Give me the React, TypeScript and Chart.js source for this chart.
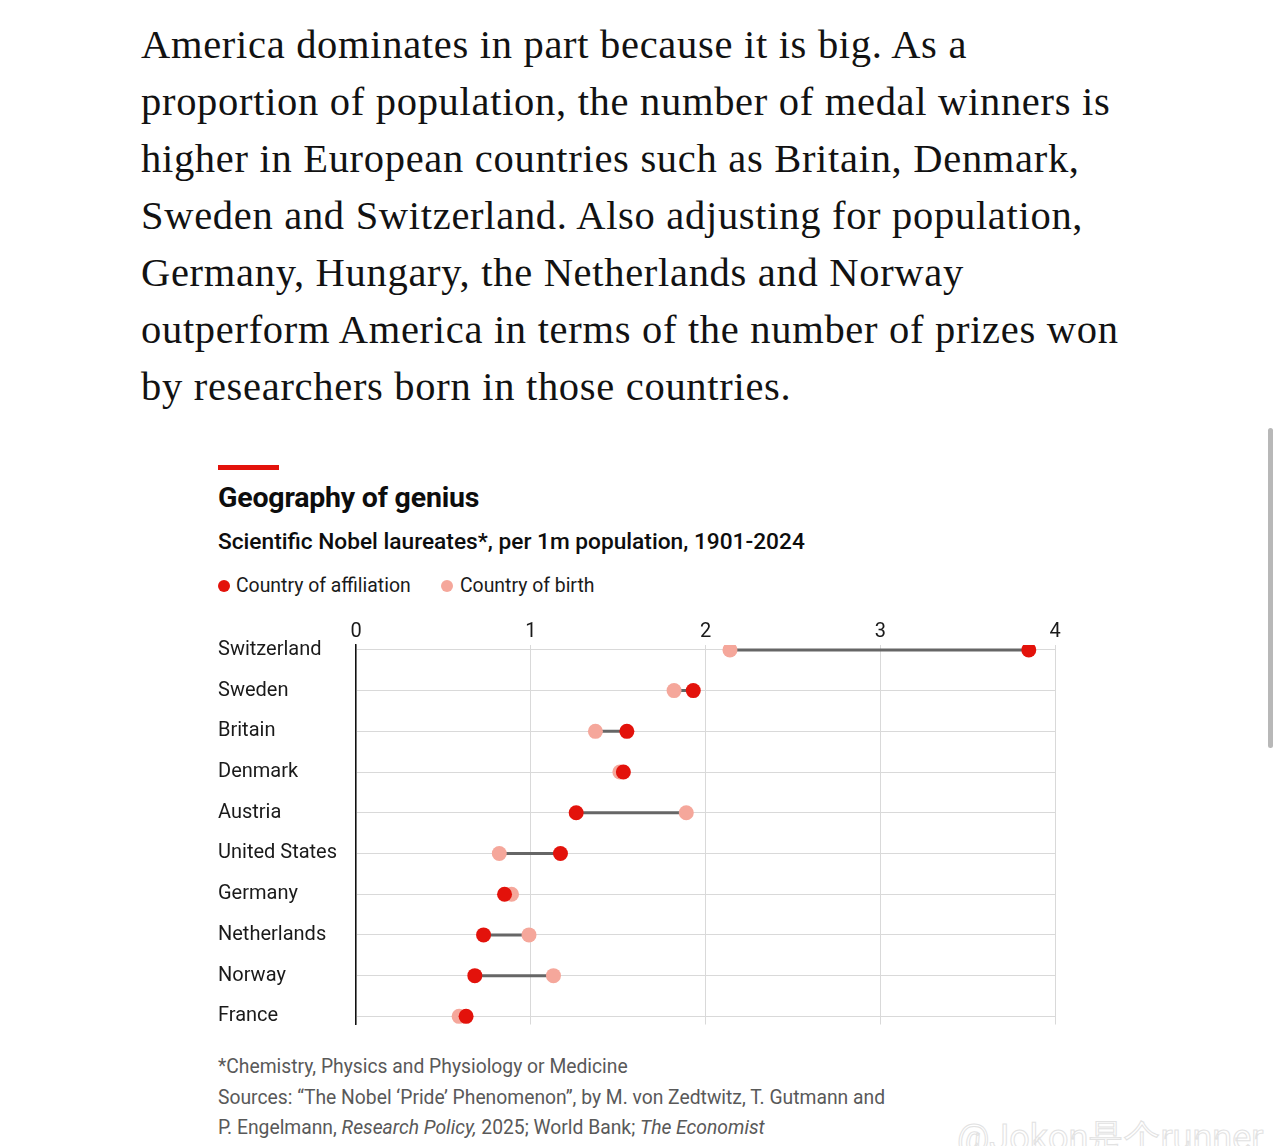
import React, { useEffect, useRef } from 'react';
import { Chart, registerables } from 'chart.js';

Chart.register(...registerables);

const countries = ['Switzerland', 'Sweden', 'Britain', 'Denmark', 'Austria', 'United States', 'Germany', 'Netherlands', 'Norway', 'France'];
const affiliation = [3.85, 1.93, 1.55, 1.53, 1.26, 1.17, 0.85, 0.73, 0.68, 0.63];
const birth = [2.14, 1.82, 1.37, 1.51, 1.89, 0.82, 0.89, 0.99, 1.13, 0.59];
const xTicks = [0, 1, 2, 3, 4];

const paragraph = [
  'America dominates in part because it is big. As a',
  'proportion of population, the number of medal winners is',
  'higher in European countries such as Britain, Denmark,',
  'Sweden and Switzerland. Also adjusting for population,',
  'Germany, Hungary, the Netherlands and Norway',
  'outperform America in terms of the number of prizes won',
  'by researchers born in those countries.',
];

const RED = '#e3120b';
const PINK = '#f5a79b';
const SANS = 'Roboto, "Noto Sans", sans-serif';

export default function App() {
  const canvasRef = useRef<HTMLCanvasElement | null>(null);

  useEffect(() => {
    const canvas = canvasRef.current;
    if (!canvas) return;
    const connectors = countries.map((c, i) => ({
      type: 'line' as const,
      label: 'connector-' + c,
      data: [
        { x: affiliation[i], y: i },
        { x: birth[i], y: i },
      ],
      borderColor: '#666666',
      borderWidth: 3,
      pointRadius: 0,
      pointHoverRadius: 0,
      showLine: true,
      fill: false,
      order: 3,
    }));
    const chart = new Chart(canvas, {
      type: 'scatter',
      data: {
        datasets: [
          {
            type: 'scatter',
            label: 'Country of affiliation',
            data: countries.map((_, i) => ({ x: affiliation[i], y: i })),
            backgroundColor: RED,
            borderWidth: 0,
            pointRadius: 7.5,
            pointHoverRadius: 7.5,
            order: 0,
          },
          {
            type: 'scatter',
            label: 'Country of birth',
            data: countries.map((_, i) => ({ x: birth[i], y: i })),
            backgroundColor: PINK,
            borderWidth: 0,
            pointRadius: 7.5,
            pointHoverRadius: 7.5,
            order: 1,
          },
          ...connectors,
        ] as any,
      },
      options: {
        animation: false,
        responsive: false,
        devicePixelRatio: 1,
        layout: { padding: { left: 10, right: 15, top: 0, bottom: 4 } },
        plugins: { legend: { display: false }, tooltip: { enabled: false } },
        events: [],
        scales: {
          x: {
            type: 'linear',
            position: 'top',
            min: 0,
            max: 4,
            afterBuildTicks: (s: any) => {
              s.ticks = xTicks.map((v) => ({ value: v }));
            },
            afterFit: (s: any) => {
              s.height = 35;
              s.paddingLeft = 0;
              s.paddingRight = 0;
            },
            ticks: {
              font: { family: SANS, size: 20 },
              color: '#1a1a1a',
              padding: 1,
              maxRotation: 0,
            },
            grid: { color: '#d9d9d9', lineWidth: 1, drawTicks: false },
            border: { display: false },
          },
          y: {
            type: 'linear',
            reverse: true,
            min: -0.12,
            max: 9.2,
            afterBuildTicks: (s: any) => {
              s.ticks = countries.map((_, i) => ({ value: i }));
            },
            afterFit: (s: any) => {
              s.width = 138;
              s.paddingTop = 0;
              s.paddingBottom = 0;
            },
            ticks: {
              callback: (v: any) => countries[Math.round(Number(v))] ?? '',
              crossAlign: 'far',
              font: { family: SANS, size: 20 },
              color: '#1a1a1a',
              padding: 0,
            },
            grid: { color: '#d9d9d9', lineWidth: 1, drawTicks: false },
            border: { display: true, color: '#111111', width: 1.5 },
          },
        },
      } as any,
    });
    return () => chart.destroy();
  }, []);

  const dot = (color: string, left: number, top: number) => (
    <div
      style={{
        position: 'absolute',
        left,
        top,
        width: 12,
        height: 12,
        borderRadius: '50%',
        background: color,
      }}
    />
  );

  return (
    <div
      style={{
        position: 'absolute',
        left: 0,
        top: 0,
        width: 1280,
        height: 1146,
        background: '#ffffff',
        overflow: 'hidden',
      }}
    >
      {paragraph.map((line, i) => (
        <div
          key={i}
          style={{
            position: 'absolute',
            left: 141,
            top: 16 + i * 57,
            height: 57,
            lineHeight: '57px',
            whiteSpace: 'nowrap',
            fontFamily: '"Liberation Serif", "DejaVu Serif", serif',
            fontSize: 40.5,
            letterSpacing: 0.7,
            color: '#121212',
          }}
        >
          {line}
        </div>
      ))}

      <div style={{ position: 'absolute', left: 218, top: 465, width: 61, height: 5, background: RED }} />
      <div
        style={{
          position: 'absolute',
          left: 218,
          top: 480,
          lineHeight: '36px',
          fontFamily: SANS,
          fontWeight: 700,
          fontSize: 28.5,
          color: '#0d0d0d',
          whiteSpace: 'nowrap',
          letterSpacing: -0.2,
        }}
      >
        Geography of genius
      </div>
      <div
        style={{
          position: 'absolute',
          left: 218,
          top: 527,
          lineHeight: '30px',
          fontFamily: SANS,
          fontWeight: 500,
          fontSize: 22.7,
          color: '#0d0d0d',
          whiteSpace: 'nowrap',
        }}
      >
        Scientific Nobel laureates*, per 1m population, 1901-2024
      </div>

      {dot(RED, 218, 580)}
      <div
        style={{
          position: 'absolute',
          left: 236,
          top: 573,
          lineHeight: '26px',
          fontFamily: SANS,
          fontSize: 19.4,
          color: '#1a1a1a',
          whiteSpace: 'nowrap',
        }}
      >
        Country of affiliation
      </div>
      {dot(PINK, 441, 580)}
      <div
        style={{
          position: 'absolute',
          left: 460,
          top: 573,
          lineHeight: '26px',
          fontFamily: SANS,
          fontSize: 19.4,
          color: '#1a1a1a',
          whiteSpace: 'nowrap',
        }}
      >
        Country of birth
      </div>

      <canvas
        ref={canvasRef}
        width={862}
        height={422}
        style={{ position: 'absolute', left: 208, top: 610, width: 862, height: 422 }}
      />

      {[
        <span key="a">*Chemistry, Physics and Physiology or Medicine</span>,
        <span key="b">Sources: “The Nobel ‘Pride’ Phenomenon”, by M. von Zedtwitz, T. Gutmann and</span>,
        <span key="c">
          P. Engelmann, <i>Research Policy,</i> 2025; World Bank; <i>The Economist</i>
        </span>,
      ].map((el, i) => (
        <div
          key={i}
          style={{
            position: 'absolute',
            left: 218,
            top: 1053 + i * 30.5,
            lineHeight: '28px',
            fontFamily: SANS,
            fontSize: 19.3,
            color: '#595959',
            whiteSpace: 'nowrap',
          }}
        >
          {el}
        </div>
      ))}

      <div
        style={{
          position: 'absolute',
          left: 1268,
          top: 428,
          width: 5,
          height: 320,
          borderRadius: 3,
          background: '#b8b8b8',
        }}
      />
      <div
        style={{
          position: 'absolute',
          left: 957,
          top: 1120,
          lineHeight: '36px',
          fontFamily: SANS,
          fontSize: 36,
          color: 'transparent',
          WebkitTextStroke: '1px #e2e2e2',
          whiteSpace: 'nowrap',
        }}
      >
        @Jokon是个runner
      </div>
    </div>
  );
}
